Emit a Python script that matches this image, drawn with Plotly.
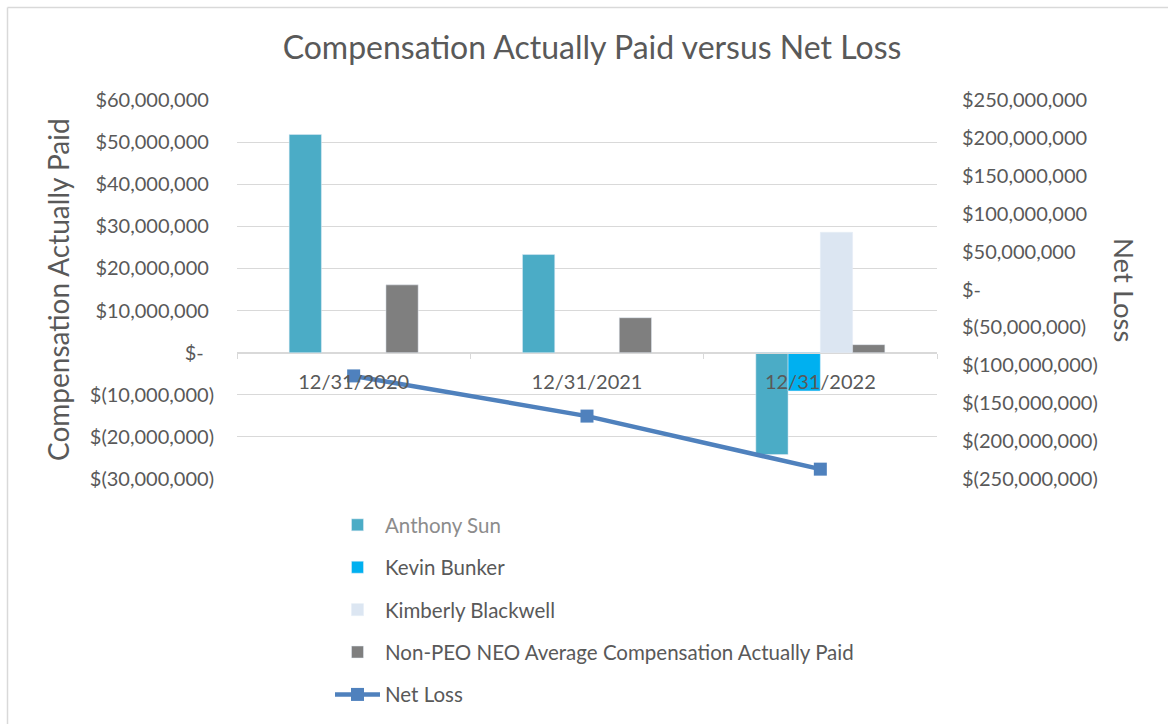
import plotly.graph_objects as go

categories = ["12/31/2020", "12/31/2021", "12/31/2022"]
anthony_sun = [51.8e6, 23.3e6, -24.2e6]
kevin_bunker = [None, None, -9.1e6]
kimberly_blackwell = [None, None, 28.6e6]
non_peo_avg = [16.1e6, 8.3e6, 1.9e6]
net_loss = [-114e6, -167e6, -237e6]

left_ticks = [-30e6, -20e6, -10e6, 0, 10e6, 20e6, 30e6, 40e6, 50e6, 60e6]
left_labels = ["$(30,000,000)", "$(20,000,000)", "$(10,000,000)", "$-\u00a0\u00a0",
               "$10,000,000\u00a0", "$20,000,000\u00a0", "$30,000,000\u00a0", "$40,000,000\u00a0",
               "$50,000,000\u00a0", "$60,000,000\u00a0"]
right_ticks = [-250e6, -200e6, -150e6, -100e6, -50e6, 0, 50e6, 100e6, 150e6, 200e6, 250e6]
right_labels = ["$(250,000,000)", "$(200,000,000)", "$(150,000,000)", "$(100,000,000)",
                "$(50,000,000)", "$-", "$50,000,000", "$100,000,000", "$150,000,000",
                "$200,000,000", "$250,000,000"]

FONT = "Lato"
TXT = "#595959"
GRID = "#D9D9D9"
W, H = 1168, 760  # figure taller than the window; the extra white bottom is clipped
PL, PT, PW, PH = 237, 100, 700, 379  # plot area in pixels


def px(xp):
    return (xp - PL) / PW


def py(yp):
    return (PT + PH - yp) / PH


fig = go.Figure()
fig.add_trace(go.Bar(x=categories, y=anthony_sun, name="<span style='color:#8C8C8C'>Anthony Sun</span>",
                     marker_color="#4BACC6", legendgroup="a"))
fig.add_trace(go.Bar(x=categories, y=kevin_bunker, name="Kevin Bunker",
                     marker_color="#00B0F0", legendgroup="b"))
fig.add_trace(go.Bar(x=categories, y=kimberly_blackwell, name="Kimberly Blackwell",
                     marker_color="#DCE6F2", legendgroup="c"))
fig.add_trace(go.Bar(x=categories, y=non_peo_avg, name="Non-PEO NEO Average Compensation Actually Paid",
                     marker_color="#7F7F7F", legendgroup="d"))
fig.add_trace(go.Scatter(x=categories, y=net_loss, name="Net Loss", yaxis="y2", mode="lines+markers",
                         line=dict(color="#4F81BD", width=4.5),
                         marker=dict(symbol="square", size=13, color="#4F81BD"),
                         legendgroup="e"))

fig.update_layout(
    width=W, height=H,
    margin=dict(l=PL, r=W - PL - PW, t=PT, b=H - PT - PH),
    paper_bgcolor="white", plot_bgcolor="white",
    font=dict(family=FONT, size=20, color=TXT),
    barmode="group", bargap=0.447, bargroupgap=0,
    showlegend=True,
    title=dict(text="Compensation Actually Paid versus Net Loss", x=592 / W, xanchor="center",
               xref="container", y=1 - 48 / H, yanchor="middle",
               font=dict(size=32, color=TXT, family=FONT)),
    xaxis=dict(anchor="free", position=1 / 3, showline=True, linecolor=GRID, linewidth=1,
               ticks="outside", ticklen=5, tickcolor=GRID, tickson="boundaries",
               ticklabelstandoff=11, showgrid=False, zeroline=False, automargin=False,
               tickfont=dict(size=20, color=TXT)),
    yaxis=dict(range=[-30e6, 60e6], tickvals=left_ticks, ticktext=left_labels,
               showgrid=True, gridcolor=GRID, gridwidth=1, zeroline=False, automargin=False,
               ticklabelstandoff=22, showline=False, tickfont=dict(size=20, color=TXT)),
    yaxis2=dict(range=[-250e6, 250e6], tickvals=right_ticks, ticktext=right_labels,
                overlaying="y", side="right", showgrid=False, zeroline=False, automargin=False,
                ticklabelstandoff=24, tickfont=dict(size=20, color=TXT)),
    legend=dict(x=px(330), y=py(505), xanchor="left", yanchor="top",
                orientation="v", tracegroupgap=12.75, itemwidth=45,
                font=dict(size=20.5, color=TXT), bgcolor="rgba(0,0,0,0)"),
    annotations=[
        dict(text="Compensation Actually Paid", xref="paper", yref="paper",
             x=px(58), y=py(290), textangle=-90, showarrow=False,
             xanchor="center", yanchor="middle", font=dict(size=28, color=TXT, family=FONT)),
        dict(text="Net Loss", xref="paper", yref="paper",
             x=px(1125), y=py(290), textangle=90, showarrow=False,
             xanchor="center", yanchor="middle", font=dict(size=27.5, color=TXT, family=FONT)),
    ],
    shapes=[
        dict(type="line", xref="paper", yref="paper",
             x0=px(7.5), x1=px(W), y0=py(7.5), y1=py(7.5),
             line=dict(color="#D9D9D9", width=1.5)),
        dict(type="line", xref="paper", yref="paper",
             x0=px(7.5), x1=px(7.5), y0=py(7.5), y1=py(H),
             line=dict(color="#D9D9D9", width=1.5)),
    ],
)

fig.write_html("out.html", config={"displayModeBar": False},
               post_script="document.body.style.margin='0';document.body.style.overflow='hidden';")
